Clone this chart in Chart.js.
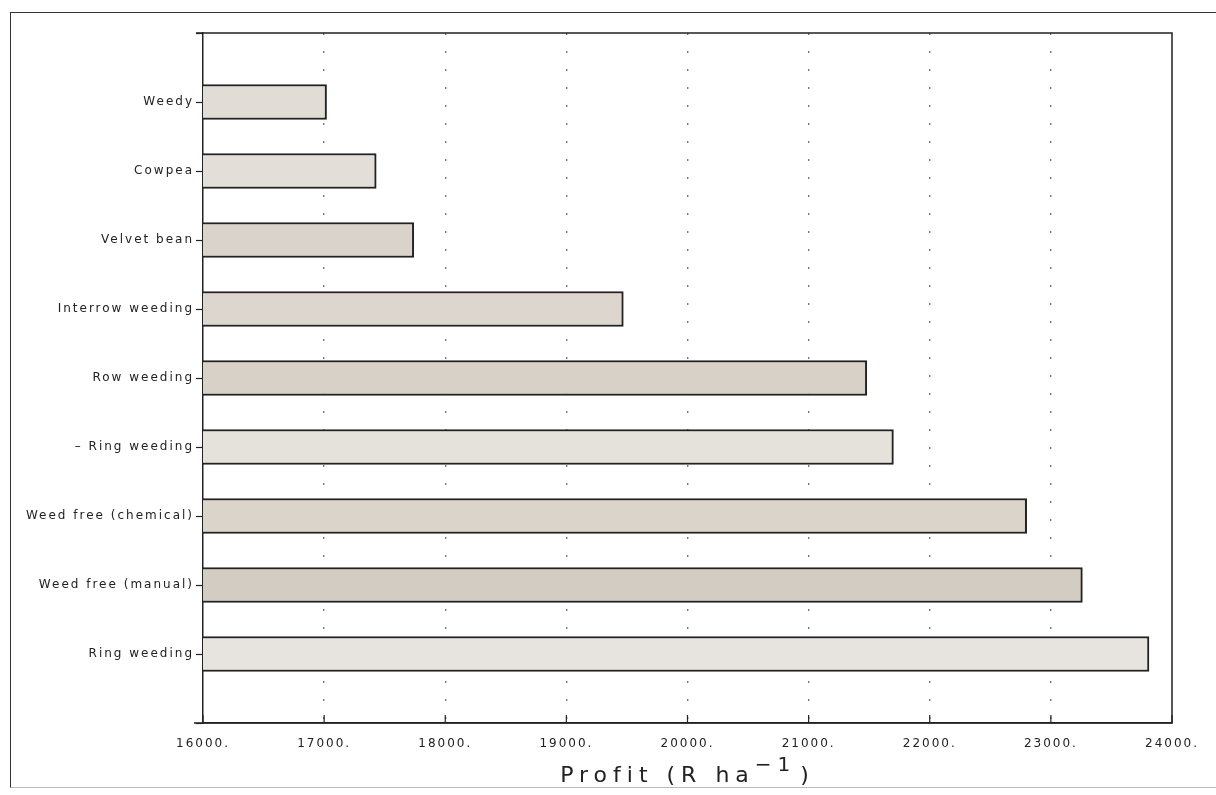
<!DOCTYPE html>
<html>
<head>
<meta charset="utf-8">
<script src="https://cdn.jsdelivr.net/npm/chart.js@4"></script>
<style>
  html, body { margin: 0; padding: 0; background: #fff; }
  #wrap { position: relative; width: 1216px; height: 795px; }
  #frame { position: absolute; left: 10px; top: 12px; width: 1210px; height: 774px;
           border-left: 1.5px solid #333; border-top: 1.5px solid #333; border-bottom: 1px solid #bbb; }
  canvas { position: absolute; left: 0; top: 0; }
</style>
</head>
<body>
<div id="wrap">
  <div id="frame"></div>
  <canvas id="myChart" width="1216" height="795"></canvas>
</div>
<script>
// treatments, top to bottom (blank slots at both ends keep the spacing of the original)
const treatments = ['', 'Weedy', 'Cowpea', 'Velvet bean', 'Interrow weeding', 'Row weeding',
    '\u2013 Ring weeding', 'Weed free (chemical)', 'Weed free (manual)', 'Ring weeding', ''];
// profit in R per ha
const profit = [null, 17020, 17430, 17740, 19470, 21480, 21700, 22800, 23260, 23810, null];
const xTicks = [16000, 17000, 18000, 19000, 20000, 21000, 22000, 23000, 24000];

const barFills = ['#fff', '#e1dcd5', '#e3ded8', '#d9d3cb', '#dcd6ce', '#d8d1c8',
    '#e5e1db', '#dad4cb', '#d3ccc2', '#e7e4df', '#fff'];

const frame = {
    id: 'frame',
    beforeLayout(chart) { chart.ctx.letterSpacing = '2px'; },
    beforeDraw(chart) { chart.ctx.letterSpacing = '2px'; },
    afterDraw(chart) {
        const ctx = chart.ctx;
        const a = chart.chartArea;
        const x = chart.scales.x;
        ctx.save();
        ctx.strokeStyle = '#222';
        ctx.lineWidth = 1.5;
        // plot box: top, right and bottom axis line
        ctx.beginPath();
        ctx.moveTo(a.left - 7, a.top);
        ctx.lineTo(a.right, a.top);
        ctx.lineTo(a.right, a.bottom);
        ctx.lineTo(a.left - 9, a.bottom);
        ctx.stroke();
        // x tick marks pointing inwards
        ctx.lineWidth = 1.2;
        xTicks.forEach(v => {
            const px = x.getPixelForValue(v);
            ctx.beginPath();
            ctx.moveTo(px, a.bottom);
            ctx.lineTo(px, a.bottom - 8);
            ctx.stroke();
        });
        // axis title with a raised -1
        ctx.fillStyle = '#222';
        ctx.textBaseline = 'alphabetic';
        ctx.textAlign = 'left';
        ctx.letterSpacing = '6px';
        ctx.font = '22px "DejaVu Sans"';
        const main = 'Profit (R ha';
        const wMain = ctx.measureText(main).width;
        ctx.font = '20px "DejaVu Sans"';
        const sup = '\u22121';
        const wSup = ctx.measureText(sup).width;
        ctx.font = '22px "DejaVu Sans"';
        const wEnd = ctx.measureText(')').width;
        const total = wMain + wSup + wEnd + 4;
        let tx = (a.left + a.right) / 2 - total / 2;
        const ty = 782;
        ctx.fillText(main, tx, ty);
        tx += wMain;
        ctx.font = '20px "DejaVu Sans"';
        ctx.fillText(sup, tx, ty - 11);
        tx += wSup + 4;
        ctx.font = '22px "DejaVu Sans"';
        ctx.fillText(')', tx, ty);
        ctx.restore();
    }
};

const ctx = document.getElementById('myChart').getContext('2d');
const myChart = new Chart(ctx, {
    type: 'bar',
    data: {
        labels: treatments,
        datasets: [{
            label: 'Profit',
            data: profit,
            backgroundColor: barFills,
            borderColor: '#222',
            borderWidth: 2,
            borderSkipped: false,
            barThickness: 35
        }]
    },
    options: {
        indexAxis: 'y',
        responsive: false,
        animation: false,
        layout: { padding: { top: 33, right: 44, left: 0, bottom: 0 } },
        plugins: { legend: { display: false }, tooltip: { enabled: false } },
        scales: {
            x: {
                type: 'linear',
                min: 16000,
                max: 24000,
                afterBuildTicks: s => { s.ticks = xTicks.map(v => ({ value: v })); },
                afterFit: s => { s.height = 72; },
                ticks: {
                    color: '#222',
                    padding: 14,
                    font: { family: 'DejaVu Sans', size: 12 },
                    callback: v => v + '.'
                },
                grid: {
                    drawTicks: false,
                    color: c => (c.tick && (c.tick.value === 16000 || c.tick.value === 24000)) ? 'rgba(0,0,0,0)' : '#777',
                    lineWidth: 1.4
                },
                border: { color: '#222', width: 1.5, dash: [2, 16] }
            },
            y: {
                type: 'category',
                offset: false,
                afterFit: s => { s.width = 203; },
                ticks: {
                    color: '#222',
                    padding: 2,
                    autoSkip: false,
                    font: { family: 'DejaVu Sans', size: 12 }
                },
                grid: {
                    offset: false,
                    drawOnChartArea: false,
                    drawTicks: true,
                    tickLength: 7,
                    tickColor: '#222',
                    tickWidth: 1.2
                },
                border: { color: '#222', width: 1.5 }
            }
        }
    },
    plugins: [frame]
});
</script>
</body>
</html>
